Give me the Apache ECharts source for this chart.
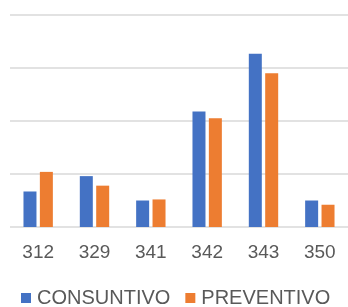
<!DOCTYPE html>
<html>
<head>
<meta charset="utf-8">
<script src="https://cdn.jsdelivr.net/npm/echarts@6/dist/echarts.min.js"></script>
<style>
    html, body { margin: 0; padding: 0; background: #fff; }
    #chart { width: 348px; height: 307px; }
</style>
</head>
<body>
<div id="chart"></div>
<script>
    // categories and values (no y labels shown, gridline step = 100)
    var categories = ['312', '329', '341', '342', '343', '350'];
    var consuntivo = [67, 96, 50, 218, 327, 50];
    var preventivo = [104, 78, 52, 205, 290, 42];

    var chart = echarts.init(document.getElementById('chart'));
    chart.setOption({
        animation: false,
        grid: {
            left: 10,
            right: 0,
            top: 15,
            bottom: 80
        },
        legend: {
            data: ['CONSUNTIVO', 'PREVENTIVO'],
            top: 283,
            left: 16,
            icon: 'rect',
            itemWidth: 10,
            itemHeight: 10,
            itemGap: 15,
            textStyle: {
                fontFamily: 'Liberation Sans',
                fontSize: 20,
                color: '#595959',
                padding: [0, 0, 0, 1]
            }
        },
        xAxis: {
            type: 'category',
            data: categories,
            axisLine: { show: false },
            axisTick: { show: false },
            axisLabel: {
                margin: 16,
                fontFamily: 'Liberation Sans',
                fontSize: 19,
                color: '#595959'
            }
        },
        yAxis: {
            type: 'value',
            min: 0,
            max: 400,
            interval: 100,
            axisLabel: { show: false },
            axisLine: { show: false },
            axisTick: { show: false },
            splitLine: {
                lineStyle: { color: '#d9d9d9', width: 1.5 }
            }
        },
        series: [
            {
                name: 'CONSUNTIVO',
                type: 'bar',
                data: consuntivo,
                barWidth: 13,
                barGap: '26%',
                itemStyle: { color: '#4472c4' }
            },
            {
                name: 'PREVENTIVO',
                type: 'bar',
                data: preventivo,
                barWidth: 13,
                barGap: '26%',
                itemStyle: { color: '#ed7d31' }
            }
        ]
    });
</script>
</body>
</html>
